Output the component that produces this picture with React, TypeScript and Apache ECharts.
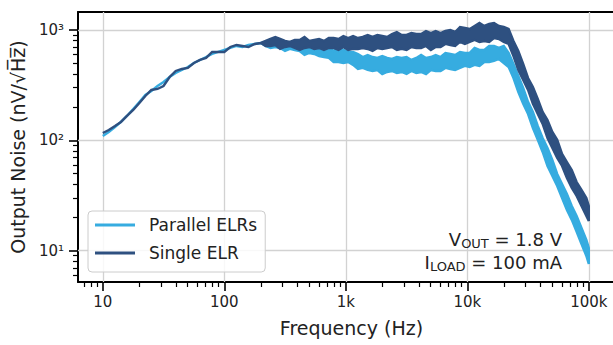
import React, { useEffect, useRef } from 'react';
import * as echarts from 'echarts';

// ---------- data ----------
const freqHz = [
  10, 11.2, 12.6, 14.1, 15.8, 17.8, 20, 22.4, 25.1, 28.2, 31.6, 35.5, 39.8, 44.7, 50.1, 56.2, 63.1, 70.8, 79.4, 89.1,
  100, 112, 126, 141, 158, 178, 200,
  219, 240, 263, 288, 316, 347, 380, 417, 457, 501, 550, 603, 661, 724, 794, 871, 955, 1047, 1148, 1259,
  1380, 1514, 1660, 1820, 1995, 2188, 2399, 2630, 2884, 3162, 3467, 3802, 4169, 4571, 5012, 5495, 6026, 6607, 7244, 7943,
  8710, 9550, 10471, 11482, 12589, 13804, 15136, 16596, 18197, 19953, 21878, 23988, 26303, 28840, 31623, 34674, 38019, 41687, 45709, 50119,
  54954, 60256, 66069, 72444, 79433, 87096, 95499, 100000,
];

// upper / lower edge of the noisy trace, nV/√Hz
const parallelUpper = [
  109.5, 119.0, 132.1, 146.7, 166.2, 192.4, 222.6, 257.6, 280.0, 310.8, 337.9, 375.0, 407.7, 434.0, 462.1, 502.3, 534.7, 569.3, 606.0, 631.9,
  658.8, 686.9, 716.2, 701.4, 731.3, 746.7, 762.4,
  762, 795, 812, 779, 747, 779, 762, 731, 762, 731, 762, 701, 701, 687, 645, 701, 659, 632, 632, 606,
  569, 594, 569, 558, 581, 558, 546, 569, 558, 569, 535, 558, 594, 558, 569, 594, 569, 619, 606, 594,
  632, 619, 619, 687, 659, 659, 716, 716, 687, 716, 619, 492, 383, 298, 223, 181, 135, 105, 85.2, 66.4,
  49.6, 40.2, 32.6, 25.4, 20.6, 16.1, 12.5, 10.6,
];
const parallelLower = [
  109.5, 119.0, 132.1, 146.7, 166.2, 192.4, 222.6, 257.6, 280.0, 310.8, 337.9, 375.0, 407.7, 434.0, 462.1, 502.3, 534.7, 569.3, 606.0, 631.9,
  658.8, 686.9, 716.2, 701.4, 731.3, 746.7, 762.4,
  716, 687, 701, 687, 645, 673, 659, 645, 594, 619, 606, 581, 569, 558, 513, 513, 502, 513, 482, 443,
  453, 434, 425, 434, 399, 416, 425, 408, 416, 399, 425, 408, 416, 399, 434, 425, 425, 453, 443, 434,
  453, 472, 462, 482, 472, 513, 513, 524, 546, 502, 462, 367, 274, 214, 173, 129, 101, 78.4, 58.6, 47.5,
  38.6, 30.0, 23.4, 19.0, 14.8, 11.5, 8.95, 7.58,
];
const singleUpper = [
  116.6, 124.1, 134.9, 146.7, 166.2, 188.4, 218.0, 252.3, 285.9, 292.0, 310.8, 375.0, 425.1, 443.2, 452.5, 502.3, 534.7, 557.5, 631.9, 631.9,
  631.9, 701.4, 731.3, 716.2, 701.4, 746.7, 762.4,
  795, 829, 864, 829, 795, 779, 812, 812, 864, 795, 812, 829, 795, 846, 846, 829, 882, 846, 882, 846,
  864, 901, 864, 901, 882, 864, 920, 959, 901, 901, 939, 920, 920, 979, 939, 979, 939, 979, 1000, 959,
  1065, 1043, 1021, 1087, 1158, 1087, 1134, 1158, 1087, 1065, 1021, 795, 645, 492, 367, 304, 237, 181, 153, 119,
  101, 75.2, 63.6, 53.9, 41.9, 35.5, 30.0, 25.4,
];
const singleLower = [
  116.6, 124.1, 134.9, 146.7, 166.2, 188.4, 218.0, 252.3, 285.9, 292.0, 310.8, 375.0, 425.1, 443.2, 452.5, 502.3, 534.7, 557.5, 631.9, 631.9,
  631.9, 701.4, 731.3, 716.2, 701.4, 746.7, 762.4,
  716, 716, 731, 673, 701, 716, 687, 659, 687, 701, 673, 687, 659, 687, 687, 659, 701, 659, 673, 673,
  687, 673, 645, 687, 673, 687, 701, 659, 673, 659, 701, 687, 687, 716, 659, 701, 701, 747, 731, 716,
  779, 747, 779, 812, 779, 795, 779, 846, 829, 779, 747, 581, 434, 352, 286, 214, 173, 141, 105, 85.2,
  69.2, 58.6, 45.6, 37.0, 31.3, 25.4, 20.6, 18.6,
];

const seriesNames = ['Parallel ELRs', 'Single ELR'];
const xTickValues = [10, 100, 1000, 10000, 100000];
const xTickLabels = ['10', '100', '1k', '10k', '100k'];
const yTickValues = [10, 100, 1000];
const yTickLabels = ['10¹', '10²', '10³'];
const xRange = [6.25, 198600];
const yRange = [5.2, 1455];
const annotationLines = [
  ['V', 'OUT', ' = 1.8 V'],
  ['I', 'LOAD', ' = 100 mA'],
];

const FONT = 'DejaVu Sans';
const LIGHT = '#36ACE0';
const DARK = '#2E5080';

const lg = (v: number) => Math.log10(v);

function minorTicks(lo: number, hi: number) {
  const out: number[] = [];
  for (let d = -1; d < 7; d++) {
    for (let k = 2; k < 10; k++) {
      const v = lg(k * Math.pow(10, d));
      if (v > lo && v < hi) out.push(v);
    }
  }
  return out;
}

function labelFor(values: number[], labels: string[]) {
  return (v: number) => {
    for (let i = 0; i < values.length; i++) {
      if (Math.abs(lg(values[i]) - v) < 1e-6) return labels[i];
    }
    return '';
  };
}

function bandSeries(name: string, color: string, upper: number[], lower: number[], z: number) {
  const pts = freqHz.map((f, i) => [lg(f), lg(upper[i]), lg(lower[i])]);
  return {
    type: 'custom',
    name,
    coordinateSystem: 'cartesian2d',
    xAxisIndex: 0,
    yAxisIndex: 0,
    data: pts,
    encode: { x: 0, y: [1, 2] },
    clip: true,
    silent: true,
    z,
    itemStyle: { color },
    renderItem: (params: any, api: any) => {
      if (params.dataIndex !== 0) return null;
      const top = pts.map((p) => api.coord([p[0], p[1]]));
      const bot = pts.map((p) => api.coord([p[0], p[2]])).reverse();
      return {
        type: 'polygon',
        shape: { points: top.concat(bot) },
        style: { fill: color, stroke: color, lineWidth: 2.4, lineJoin: 'miter' },
      };
    },
  };
}

export default function App() {
  const ref = useRef<HTMLDivElement>(null);

  useEffect(() => {
    if (!ref.current) return;
    const chart = echarts.init(ref.current, null, { renderer: 'svg' });

    const xMin = lg(xRange[0]);
    const xMax = lg(xRange[1]);
    const yMin = lg(yRange[0]);
    const yMax = lg(yRange[1]);
    const xMajor = xTickValues.map(lg);
    const yMajor = yTickValues.map(lg);
    const labelStyle = { fontFamily: FONT, fontSize: 15, color: '#222' };
    const spine = { show: true, onZero: false, lineStyle: { color: '#000', width: 2 } };

    const option: any = {
      animation: false,
      textStyle: { fontFamily: FONT },
      grid: { left: 78, top: 12, width: 547, height: 270 },
      xAxis: [
        {
          type: 'value', min: xMin, max: xMax, position: 'bottom',
          axisLine: spine,
          axisTick: { show: true, length: 9, lineStyle: { color: '#000', width: 1.6 }, customValues: xMajor },
          axisLabel: { show: true, customValues: xMajor, formatter: labelFor(xTickValues, xTickLabels), margin: 12, ...labelStyle },
          splitLine: { show: false },
          name: 'Frequency (Hz)', nameLocation: 'middle', nameGap: 36,
          nameTextStyle: { fontFamily: FONT, fontSize: 19, color: '#222' },
        },
        {
          type: 'value', min: xMin, max: xMax, position: 'bottom',
          axisLine: { show: false },
          axisTick: { show: true, length: 5, lineStyle: { color: '#000', width: 1.2 }, customValues: minorTicks(xMin, xMax) },
          axisLabel: { show: false },
          splitLine: { show: false },
        },
        {
          type: 'value', min: xMin, max: xMax, position: 'top',
          axisLine: spine, axisTick: { show: false }, axisLabel: { show: false }, splitLine: { show: false },
        },
      ],
      yAxis: [
        {
          type: 'value', min: yMin, max: yMax, position: 'left',
          axisLine: spine,
          axisTick: { show: true, length: 9, lineStyle: { color: '#000', width: 1.6 }, customValues: yMajor },
          axisLabel: { show: true, customValues: yMajor, formatter: labelFor(yTickValues, yTickLabels), margin: 14, ...labelStyle },
          splitLine: { show: false },
          name: 'Output Noise (nV/\u221AH\u0305z\u0305)', nameLocation: 'middle', nameGap: 43, nameRotate: 90,
          nameTextStyle: { fontFamily: FONT, fontSize: 19, color: '#222' },
        },
        {
          type: 'value', min: yMin, max: yMax, position: 'left',
          axisLine: { show: false },
          axisTick: { show: true, length: 5, lineStyle: { color: '#000', width: 1.2 }, customValues: minorTicks(yMin, yMax) },
          axisLabel: { show: false },
          splitLine: { show: false },
        },
      ],
      legend: {
        data: seriesNames.map((n) => ({ name: n, icon: 'rect' })),
        orient: 'vertical', left: 88, top: 211,
        itemWidth: 40, itemHeight: 3, itemGap: 8,
        padding: [4, 8, 9, 7],
        backgroundColor: 'rgba(255,255,255,0.85)', borderColor: '#cccccc', borderWidth: 1, borderRadius: 4,
        textStyle: { fontFamily: FONT, fontSize: 17, color: '#222', lineHeight: 20, padding: [0, 0, 0, 9] },
        selectedMode: false,
      },
      graphic: annotationLines.map((ln, i) => ({
        type: 'text', x: 562, y: 228 + i * 23, z: 10,
        style: {
          text: `{a|${ln[0]}}{b|${ln[1]}}{a|${ln[2]}}`,
          align: 'right', verticalAlign: 'top',
          rich: {
            a: { fontFamily: FONT, fontSize: 18, fill: '#222', lineHeight: 22, verticalAlign: 'middle' },
            b: { fontFamily: FONT, fontSize: 13, fill: '#222', lineHeight: 10, verticalAlign: 'bottom' },
          },
        },
      })),
      series: [
        {
          type: 'line', data: [], silent: true, z: 1, xAxisIndex: 0, yAxisIndex: 0,
          markLine: {
            silent: true, z: 1, symbol: ['none', 'none'], label: { show: false },
            lineStyle: { color: '#d2d2d2', width: 1.3, type: 'solid' },
            emphasis: { disabled: true },
            data: [...xMajor.map((v) => ({ xAxis: v })), ...yMajor.map((v) => ({ yAxis: v }))],
          },
        },
        bandSeries(seriesNames[0], LIGHT, parallelUpper, parallelLower, 2),
        bandSeries(seriesNames[1], DARK, singleUpper, singleLower, 3),
      ],
    };

    chart.setOption(option);
    return () => chart.dispose();
  }, []);

  return (
    <div style={{ position: 'absolute', left: 0, top: 0, width: 613, height: 345, overflow: 'hidden', background: '#fff' }}>
      <div ref={ref} style={{ width: 640, height: 345 }} />
    </div>
  );
}
